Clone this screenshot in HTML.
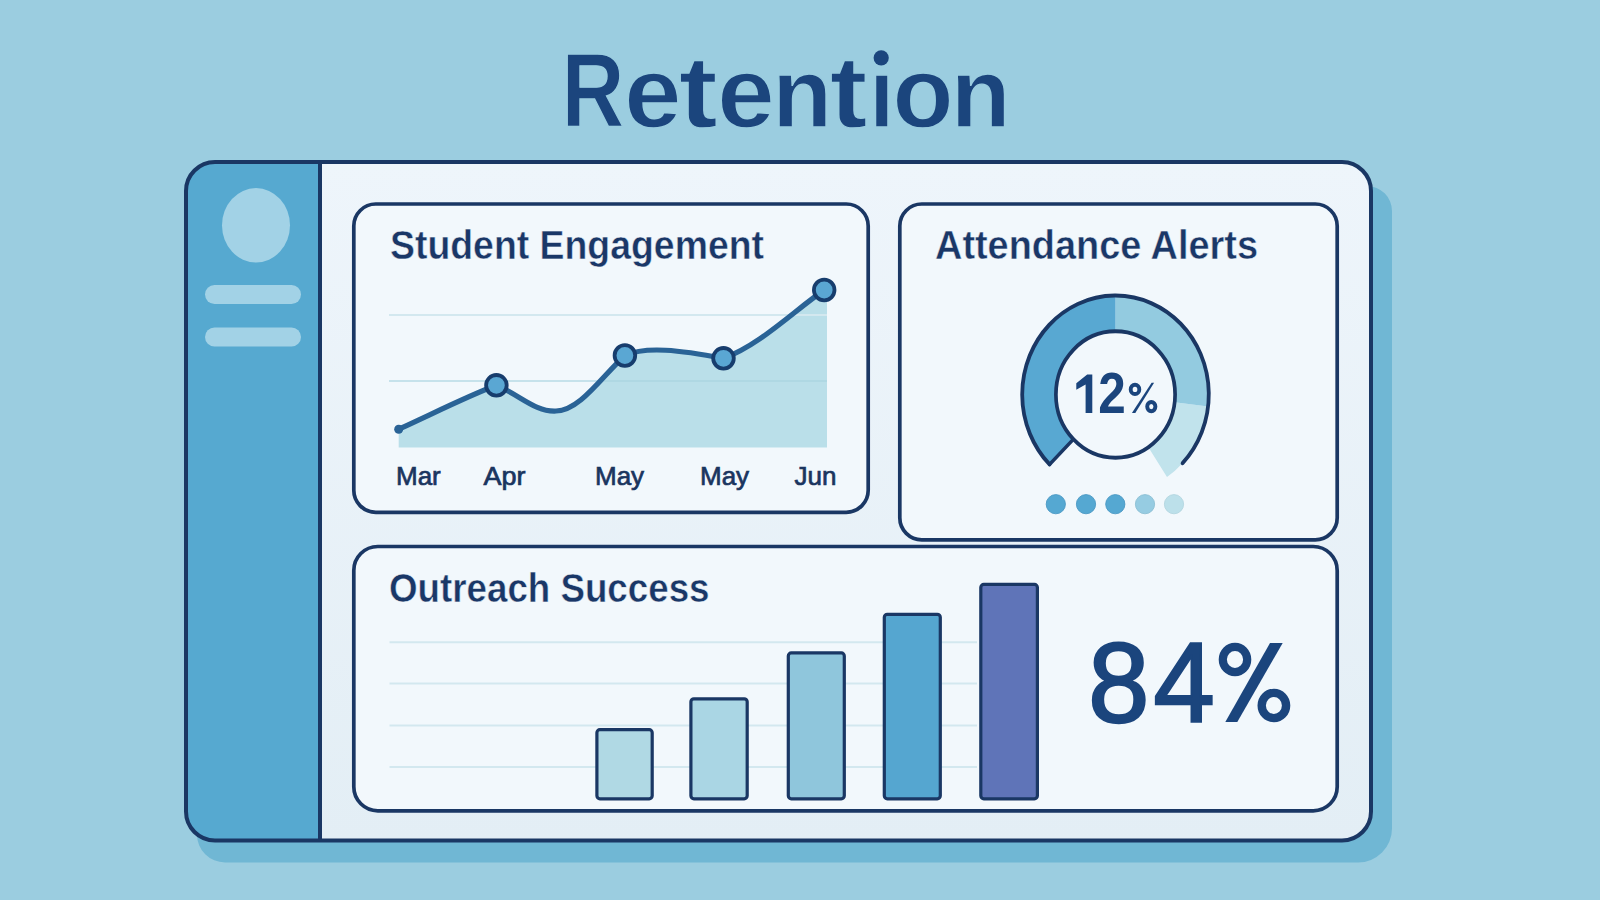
<!DOCTYPE html>
<html><head><meta charset="utf-8"><style>
html,body{margin:0;padding:0;width:1600px;height:900px;overflow:hidden;background:#9BCDE0;}
svg{display:block;font-family:"Liberation Sans",sans-serif;}
</style></head><body>
<svg width="1600" height="900" viewBox="0 0 1600 900">
<defs><linearGradient id="cg" x1="0" y1="0" x2="0" y2="1"><stop offset="0" stop-color="#EEF5FB"/><stop offset="1" stop-color="#E3EEF5"/></linearGradient></defs>
<rect width="1600" height="900" fill="#9BCDE0"/>
<!-- title -->
<g fill="#1B457D" font-weight="700" stroke="#9BCDE0" stroke-width="1.4">
<text transform="translate(561.46,127) scale(0.8257,1)" font-size="105.7" >R</text>
<text transform="translate(624.29,126.8) scale(1.0312,1)" font-size="99.6" >e</text>
<text transform="translate(678.67,126.8) scale(1.1424,1)" font-size="102.4" >t</text>
<text transform="translate(717.27,126.8) scale(1.0354,1)" font-size="99.6" >e</text>
<text transform="translate(772.24,127) scale(0.9884,1)" font-size="99.1" >n</text>
<text transform="translate(829.82,126.8) scale(1.1044,1)" font-size="102.4" >t</text>
<text transform="translate(869.15,127) scale(0.9194,1)" font-size="97.5" >ı</text>
<text transform="translate(892.50,126.8) scale(0.9987,1)" font-size="100" >o</text>
<text transform="translate(950.74,127) scale(0.9884,1)" font-size="99.1" >n</text>
</g>
<circle cx="881.2" cy="57.8" r="7.6" fill="#1B457D"/>
<!-- shadow -->
<path d="M223,186 H1367 A25,25 0 0 1 1392,211 V828.5 A34,34 0 0 1 1358,862.5 H225 A28,28 0 0 1 197,834.5 V212 A26,26 0 0 1 223,186 Z" fill="#70B7D4"/>
<!-- frame -->
<rect x="186" y="162" width="1185" height="678.5" rx="29" fill="url(#cg)"/>
<path d="M215,162 H320 V840.5 H215 A29,29 0 0 1 186,811.5 V191 A29,29 0 0 1 215,162 Z" fill="#56A9D0"/>
<rect x="186" y="162" width="1185" height="678.5" rx="29" fill="none" stroke="#1A3764" stroke-width="4"/>
<line x1="320" y1="162" x2="320" y2="840" stroke="#1A3764" stroke-width="4"/>
<!-- sidebar items -->
<ellipse cx="256" cy="225.3" rx="34" ry="37.2" fill="#A2D2E6"/>
<rect x="205" y="285" width="96" height="19" rx="9.5" fill="#A2D2E6"/>
<rect x="205" y="327.5" width="96" height="19" rx="9.5" fill="#A2D2E6"/>
<!-- cards -->
<rect x="353.8" y="204" width="514.4" height="308.3" rx="22" fill="#F2F8FC" stroke="#1A3764" stroke-width="3.7"/>
<rect x="899.8" y="204" width="437.4" height="335.8" rx="22" fill="#F2F8FC" stroke="#1A3764" stroke-width="3.7"/>
<rect x="353.8" y="546.5" width="983.4" height="264.3" rx="24" fill="#F2F8FC" stroke="#1A3764" stroke-width="3.7"/>
<!-- card titles -->
<text x="390" y="259" font-size="40.7" font-weight="700" fill="#1A3767" textLength="374" lengthAdjust="spacingAndGlyphs" stroke="#F2F8FC" stroke-width="0.45">Student Engagement</text>
<text x="935" y="259" font-size="40.7" font-weight="700" fill="#1A3767" textLength="323" lengthAdjust="spacingAndGlyphs" stroke="#F2F8FC" stroke-width="0.45">Attendance Alerts</text>
<text x="389" y="601.5" font-size="40.7" font-weight="700" fill="#1A3767" textLength="320.5" lengthAdjust="spacingAndGlyphs" stroke="#F2F8FC" stroke-width="0.45">Outreach Success</text>
<!-- line chart -->
<path d="M398.7,429.2 C430,415 470,395 496.4,385.3 C520,395 535,412 556,411 C580,411 603,375 625,355.5 C645,346 680,350 723.5,358.3 C760,345 795,310 824.2,290 L827,290 L827,447.5 L398.7,447.5 Z" fill="#BADFE9"/>
<line x1="389" y1="315" x2="827" y2="315" stroke="#D3E8EF" stroke-width="2"/>
<line x1="389" y1="381" x2="827" y2="381" stroke="#A9D3E0" stroke-opacity="0.6" stroke-width="2"/>
<path d="M398.7,429.2 C430,415 470,395 496.4,385.3 C520,395 535,412 556,411 C580,411 603,375 625,355.5 C645,346 680,350 723.5,358.3 C760,345 795,310 824.2,290" fill="none" stroke="#2A6396" stroke-width="5.2" stroke-linecap="round" stroke-linejoin="round"/>
<circle cx="398.7" cy="429.2" r="4.5" fill="#2A6396"/>
<circle cx="496.4" cy="385.3" r="10.3" fill="#5AA7D3" stroke="#173D6D" stroke-width="3.8"/>
<circle cx="624.9" cy="355.5" r="10.3" fill="#5AA7D3" stroke="#173D6D" stroke-width="3.8"/>
<circle cx="723.5" cy="358.3" r="10.3" fill="#5AA7D3" stroke="#173D6D" stroke-width="3.8"/>
<circle cx="824.2" cy="290" r="10.3" fill="#5AA7D3" stroke="#173D6D" stroke-width="3.8"/>
<g font-size="26" fill="#1A355F" stroke="#1A355F" stroke-width="0.7">
<text x="396" y="485">Mar</text>
<text x="483.5" y="485" textLength="42" lengthAdjust="spacingAndGlyphs">Apr</text>
<text x="595" y="485">May</text>
<text x="700" y="485">May</text>
<text x="794.5" y="485">Jun</text>
</g>
<!-- donut -->

<g transform="translate(1115.5,394.5) scale(1,1.06)">
  <path d="M92.60,11.37 A93.3,93.3 0 0 1 51.50,77.80 L32.90,49.70 A59.6,59.6 0 0 0 59.16,7.26 Z" fill="#C1E3EC"/>
  <path d="M0.00,-93.30 A93.3,93.3 0 0 1 92.60,11.37 L59.16,7.26 A59.6,59.6 0 0 0 0.00,-59.60 Z" fill="#93CBE0"/>
  <path d="M-65.97,65.97 A93.3,93.3 0 0 1 -0.00,-93.30 L-0.00,-59.60 A59.6,59.6 0 0 0 -42.14,42.14 Z" fill="#58A8D2"/>
  <path d="M-42.14,42.14 L-65.97,65.97" stroke="#1A3764" stroke-width="3.4" stroke-linecap="round"/>
  <path d="M-65.97,65.97 A93.3,93.3 0 1 1 67.11,64.81" fill="none" stroke="#1A3764" stroke-width="3.8" stroke-linecap="round"/>
  <circle r="59.6" fill="#F2F8FC" stroke="#1A3764" stroke-width="3.7"/>
</g>
<path d="M1076.3,383.2 L1087.2,374.4 L1092.3,374.4 L1092.3,413.1 L1085.6,413.1 L1085.6,384.6 L1076.3,389.8 Z" fill="#1B457D"/>
<text x="1098.2" y="413.2" font-size="56.7" font-weight="700" fill="#1B457D" textLength="27.5" lengthAdjust="spacingAndGlyphs">2</text>
<g fill="none" stroke="#1B457D" stroke-width="3.9">
<ellipse cx="1135" cy="389.4" rx="4.3" ry="4.6"/>
<ellipse cx="1151.3" cy="406.6" rx="4.1" ry="4.6"/>
</g>
<path d="M1131.9,413.1 L1135.3,413.1 L1154.1,382.8 L1151.6,382.8 Z" fill="#1B457D"/>
<circle cx="1055.8" cy="504.2" r="9.6" fill="#55A8D2" stroke="#4B98C4" stroke-width="0.9"/>
<circle cx="1086" cy="504.2" r="9.6" fill="#55A8D2" stroke="#4B98C4" stroke-width="0.9"/>
<circle cx="1115.3" cy="504.2" r="9.6" fill="#55A8D2" stroke="#4B98C4" stroke-width="0.9"/>
<circle cx="1145" cy="504.2" r="9.6" fill="#96CCE2" stroke="#8CC0D4" stroke-width="0.9"/>
<circle cx="1174" cy="504.2" r="9.6" fill="#BCE0EA" stroke="#B3D6E0" stroke-width="0.9"/>
<!-- bar chart grid -->
<g stroke="#D3E8EF" stroke-width="2">
<line x1="389.5" y1="642.2" x2="977" y2="642.2"/>
<line x1="389.5" y1="683.5" x2="977" y2="683.5"/>
<line x1="389.5" y1="725.5" x2="977" y2="725.5"/>
<line x1="389.5" y1="767.1" x2="977" y2="767.1"/>
</g>
<g stroke="#1A3764" stroke-width="3.2">
<rect x="596.9" y="729.7" width="55.3" height="69.1" rx="3" fill="#B0D9E4"/>
<rect x="690.9" y="698.8" width="56.3" height="100" rx="3" fill="#AAD6E4"/>
<rect x="788.3" y="652.9" width="56" height="145.9" rx="3" fill="#8FC6DC"/>
<rect x="884.3" y="614.3" width="56" height="184.5" rx="3" fill="#55A6D0"/>
<rect x="980.8" y="584.4" width="56.6" height="214.4" rx="3" fill="#5F74B8"/>
</g>
<g fill="#1B457D" font-size="112.8" font-weight="400">
<text x="1088.3" y="721.6" stroke="#1B457D" stroke-width="2.4" textLength="61" lengthAdjust="spacingAndGlyphs">8</text>
<text x="1153.6" y="721.6" stroke="#1B457D" stroke-width="2.4" textLength="61.2" lengthAdjust="spacingAndGlyphs">4</text>
</g>
<g fill="none" stroke="#1B457D">
<ellipse cx="1235" cy="659.5" rx="12.2" ry="12.6" stroke-width="8.2"/>
<ellipse cx="1273.9" cy="705.5" rx="12.2" ry="12.6" stroke-width="8.4"/>
<path d="M1225.3,722 L1237.3,722 L1282.7,643 L1270,643 Z" fill="#1B457D" stroke="none"/>
</g>
</svg>
</body></html>
